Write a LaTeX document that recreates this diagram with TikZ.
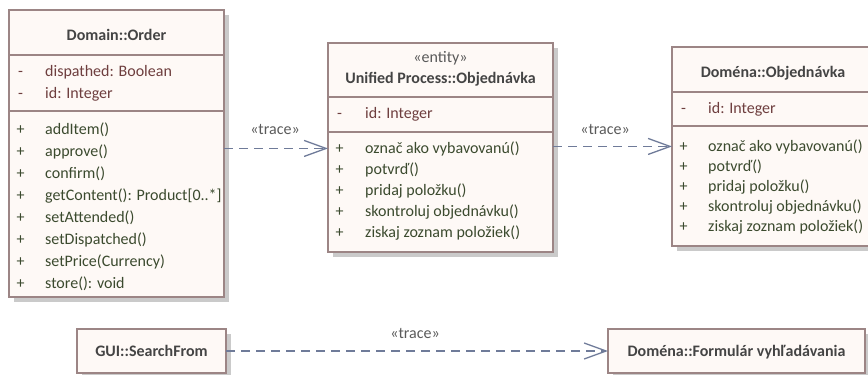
\documentclass[tikz,border=0pt]{standalone}
\usepackage{fontspec}
\setmainfont{Carlito}
\usetikzlibrary{arrows.meta,shadows}

\definecolor{boxfill}{HTML}{FEF9F6}
\definecolor{boxline}{HTML}{9C8585}
\definecolor{shadowgray}{HTML}{CACACA}
\definecolor{titlegray}{HTML}{444444}
\definecolor{labelgray}{HTML}{5A5A5A}
\definecolor{attrbrown}{HTML}{6E3E3E}
\definecolor{opergreen}{HTML}{3B4A2E}
\definecolor{traceblue}{HTML}{6F7B99}

\newcommand{\umlfont}{\fontsize{16}{19}\selectfont}

\tikzset{
  classbox/.style={draw=boxline, fill=boxfill, line width=1.3pt, anchor=north west,
    inner sep=0pt, outer sep=0pt,
    drop shadow={shadow xshift=5pt, shadow yshift=-5pt, fill=shadowgray, opacity=1}},
  sepline/.style={draw=boxline, line width=1.3pt},
  ctitle/.style={font=\umlfont\bfseries, text=titlegray, inner sep=0pt, anchor=base},
  stereo/.style={font=\umlfont, text=labelgray, inner sep=0pt, anchor=base},
  attrsym/.style={font=\umlfont, text=attrbrown, inner sep=0pt, anchor=base},
  attrtext/.style={font=\umlfont, text=attrbrown, inner sep=0pt, anchor=base west},
  opersym/.style={font=\umlfont, text=opergreen, inner sep=0pt, anchor=base},
  opertext/.style={font=\umlfont, text=opergreen, inner sep=0pt, anchor=base west},
  tracedep/.style={draw=traceblue, line width=1.3pt, dash pattern=on 9pt off 6pt,
    -{Straight Barb[length=22pt,width=16pt,line width=1.3pt]}},
  tracelabel/.style={font=\umlfont, text=labelgray, inner sep=0pt, anchor=base},
}

\begin{document}
\begin{tikzpicture}[x=1pt,y=-1pt]
\clip (0,0) rectangle (868,375);

% ---------- Domain::Order ----------
\node[classbox, minimum width=215pt, minimum height=287pt] (order) at (9,10) {};
\node[ctitle] (order-title) at (116.5,40) {Domain::Order};
\draw[sepline] (9,55) -- (224,55);
\draw[sepline] (9,111) -- (224,111);
\foreach \t [count=\i] in {{dispathed: Boolean},{id: Integer}} {
  \node[attrsym] at (20.5,54+22*\i) {-};
  \node[attrtext] (order-a\i) at (45,54+22*\i) {\t};
}
\foreach \t [count=\i] in {{addItem()},{approve()},{confirm()},{getContent(): Product[0..*]},
    {setAttended()},{setDispatched()},{setPrice(Currency)},{store(): void}} {
  \node[opersym] at (20.5,112+22*\i) {+};
  \node[opertext] (order-m\i) at (45,112+22*\i) {\t};
}

% ---------- Unified Process::Objednávka ----------
\node[classbox, minimum width=225pt, minimum height=209pt] (up) at (328,43) {};
\node[stereo] (up-stereo) at (440.5,62) {«entity»};
\node[ctitle] (up-title) at (440.5,83) {Unified Process::Objednávka};
\draw[sepline] (328,97) -- (553,97);
\draw[sepline] (328,132) -- (553,132);
\node[attrsym] at (339.5,118) {-};
\node[attrtext] (up-a1) at (365,118) {id: Integer};
\foreach \t [count=\i] in {{označ ako vybavovanú()},{potvrď()},{pridaj položku()},
    {skontroluj objednávku()},{ziskaj zoznam položiek()}} {
  \node[opersym] at (339.5,132+21*\i) {+};
  \node[opertext] (up-m\i) at (365,132+21*\i) {\t};
}

% ---------- Doména::Objednávka ----------
\node[classbox, minimum width=204pt, minimum height=199pt] (dom) at (672,47) {};
\node[ctitle] (dom-title) at (773,77) {Doména::Objednávka};
\draw[sepline] (672,92) -- (876,92);
\draw[sepline] (672,126) -- (876,126);
\node[attrsym] at (683.5,113) {-};
\node[attrtext] (dom-a1) at (708,113) {id: Integer};
\foreach \t [count=\i] in {{označ ako vybavovanú()},{potvrď()},{pridaj položku()},
    {skontroluj objednávku()},{ziskaj zoznam položiek()}} {
  \node[opersym] at (683.5,131+20*\i) {+};
  \node[opertext] (dom-m\i) at (708,131+20*\i) {\t};
}

% ---------- bottom row ----------
\node[classbox, minimum width=149pt, minimum height=44pt] (gui) at (77,329) {};
\node[ctitle] (gui-title) at (151.5,356) {GUI::SearchFrom};
\node[classbox, minimum width=257pt, minimum height=44pt] (form) at (608,329) {};
\node[ctitle] (form-title) at (736.5,356) {Doména::Formulár vyhľadávania};

% ---------- trace dependencies ----------
\draw[tracedep] (order.east |- up-m1) -- (up.west |- up-m1);
\node[tracelabel] (lbl-1) at (275,134) {«trace»};
\draw[tracedep] (up.east |- dom-m1) -- (dom.west |- dom-m1);
\node[tracelabel] (lbl-2) at (605,134) {«trace»};
\draw[tracedep] (gui) -- (form);
\node[tracelabel] (lbl-3) at (415,338) {«trace»};
\end{tikzpicture}
\end{document}
